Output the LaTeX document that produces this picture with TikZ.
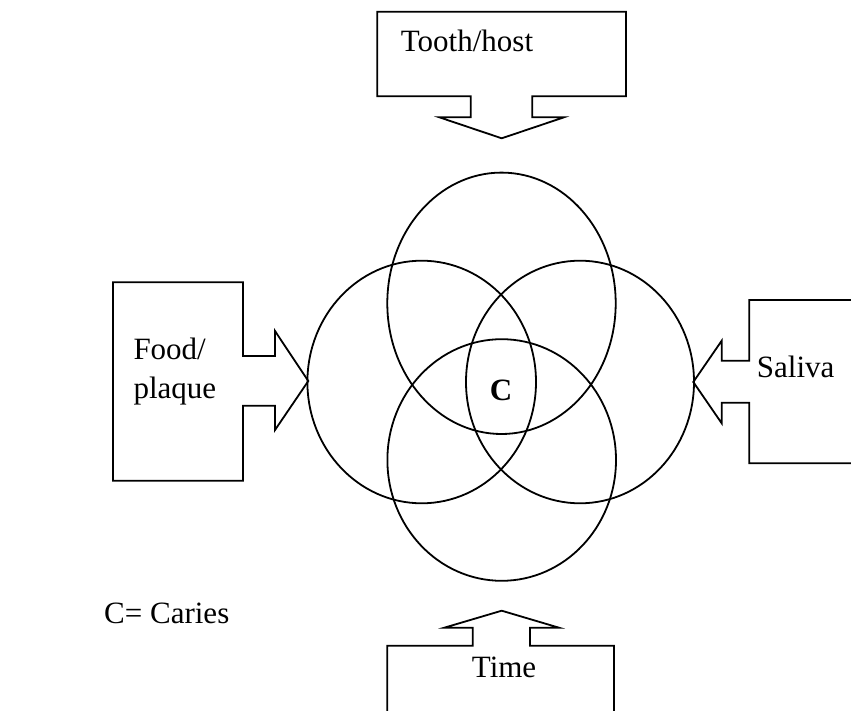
\documentclass[tikz,border=0pt]{standalone}
\usepackage{fontspec}
\setmainfont{Liberation Serif}
\begin{document}
\begin{tikzpicture}[x=1pt,y=-1pt,
  ln/.style={line width=1.8pt, line join=miter},
  lbl/.style={font=\fontsize{31}{36}\selectfont, inner sep=0pt, anchor=base west}]
\clip (0,0) rectangle (851,711);
\fill[white] (0,0) rectangle (851,711);
% circles
\draw[ln] (501.5,303.3) ellipse [x radius=114.2, y radius=130.7];
\draw[ln] (421.7,382) ellipse [x radius=114.3, y radius=121.3];
\draw[ln] (580,382) ellipse [x radius=114, y radius=121.3];
\draw[ln] (501.7,460) ellipse [x radius=114.3, y radius=120.8];
% top box
\draw[ln] (377.3,11.7) -- (626,11.7) -- (626,96.3) -- (532.3,96.3) -- (532.3,117.3) -- (564,117.3)
  -- (501.7,138.3) -- (439.3,117.3) -- (470.7,117.3) -- (470.7,96.3) -- (377.3,96.3) -- cycle;
% left box
\draw[ln] (113,282.3) -- (243,282.3) -- (243,356) -- (275,356) -- (275,331) -- (308.3,381)
  -- (275,430) -- (275,405.7) -- (243,405.7) -- (243,480.7) -- (113,480.7) -- cycle;
% right box
\draw[ln] (870,300) -- (749.3,300) -- (749.3,360.7) -- (721.7,360.7) -- (721.7,340.7) -- (693.3,382)
  -- (721.7,423.3) -- (721.7,402.7) -- (749.3,402.7) -- (749.3,463.3) -- (870,463.3);
% bottom box
\draw[ln] (387.3,730) -- (387.3,645.7) -- (472.7,645.7) -- (472.7,627.7) -- (444.3,627.7) -- (501.7,610.7)
  -- (559,627.7) -- (530,627.7) -- (530,645.7) -- (614,645.7) -- (614,730);
% labels
\node[lbl] (tooth) at (400.7,51.7) {Tooth/host};
\node[lbl] (food) at (133.3,359) {Food/};
\node[lbl] (plaque) at (133.3,398) {plaque};
\node[lbl] (saliva) at (756.7,377.3) {Saliva};
\node[lbl] (time) at (471.7,677.3) {Time};
\node[lbl] (key) at (104,623) {C= Caries};
\node[font=\fontsize{31}{36}\selectfont\bfseries, inner sep=0pt] (c) at (501,390) {C};
\end{tikzpicture}
\end{document}
